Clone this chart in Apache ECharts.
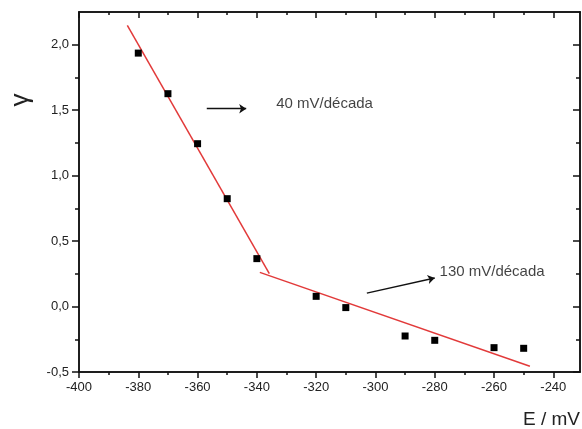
<!DOCTYPE html>
<html>
<head>
<meta charset="utf-8">
<script src="https://cdn.jsdelivr.net/npm/echarts@6/dist/echarts.min.js"></script>
<style>
html,body{margin:0;padding:0;background:#fff;}
#c{width:582px;height:429px;}
</style>
</head>
<body>
<div id="c"></div>
<script>
// measured points
const potentials = [-380, -370, -360, -350, -340, -320, -310, -290, -280, -260, -250];
const gammaValues = [1.936, 1.626, 1.244, 0.824, 0.366, 0.078, -0.008, -0.225, -0.258, -0.314, -0.319];
// fitted lines (end points)
const fit1X = [-383.7, -335.8];
const fit1Y = [2.147, 0.252];
const fit2X = [-339.0, -247.9];
const fit2Y = [0.261, -0.456];
// annotation arrows (start, end)
const arrow1X = [-356.9, -343.6];
const arrow1Y = [1.511, 1.511];
const arrow2X = [-302.9, -280.0];
const arrow2Y = [0.103, 0.218];
// annotation labels
const noteText = ['40 mV/década', '130 mV/década'];
const noteX = [-333.5, -278.4];
const noteY = [1.548, 0.264];
// ticks
const xMajor = [-400, -380, -360, -340, -320, -300, -280, -260, -240];
const xMinor = [-390, -370, -350, -330, -310, -290, -270, -250];
const yMajor = [-0.5, 0.0, 0.5, 1.0, 1.5, 2.0];
const yMinor = [-0.25, 0.25, 0.75, 1.25, 1.75];
const xRange = [-400, -231];
const yRange = [-0.5, 2.25];
const yTitle = 'γ';
const xTitle = 'E / mV';

const FONT = 'Liberation Sans, Arial, sans-serif';
const AX = '#111';
const RED = '#e23a3a';

function zip(a, b) { return a.map((v, i) => [v, b[i]]); }

const gridBox = {left: 79, top: 12, width: 501, height: 360};

function xAx(grid, pos, ticks, len, inside, labels) {
  return {
    type: 'value', gridIndex: grid, position: pos, min: xRange[0], max: xRange[1],
    axisLine: {show: true, onZero: false, lineStyle: {color: AX, width: 1.5}},
    axisTick: {show: true, customValues: ticks, length: len, inside: inside, lineStyle: {color: AX, width: 1.5}},
    axisLabel: labels ? {show: true, customValues: xMajor, fontSize: 13, color: '#222', fontFamily: FONT, margin: 9,
      formatter: v => String(v)} : {show: false},
    splitLine: {show: false}
  };
}
function yAx(grid, pos, ticks, len, inside, labels) {
  return {
    type: 'value', gridIndex: grid, position: pos, min: yRange[0], max: yRange[1],
    axisLine: {show: true, onZero: false, lineStyle: {color: AX, width: 1.5}},
    axisTick: {show: true, customValues: ticks, length: len, inside: inside, lineStyle: {color: AX, width: 1.5}},
    axisLabel: labels ? {show: true, customValues: yMajor, fontSize: 13, color: '#222', fontFamily: FONT, margin: 10,
      formatter: v => v.toFixed(1).replace('.', ',')} : {show: false},
    splitLine: {show: false}
  };
}

const chart = echarts.init(document.getElementById('c'), null, {renderer: 'canvas'});
chart.setOption({
  animation: false,
  backgroundColor: '#fff',
  grid: [Object.assign({}, gridBox), Object.assign({}, gridBox)],
  xAxis: [
    xAx(0, 'bottom', xMajor, 6, false, true),
    xAx(0, 'top', xMajor, 6, true, false),
    xAx(1, 'bottom', xMinor, 3, false, false),
    xAx(1, 'top', xMinor, 3, true, false)
  ],
  yAxis: [
    yAx(0, 'left', yMajor, 7, false, true),
    yAx(0, 'right', yMajor, 7, true, false),
    yAx(1, 'left', yMinor, 4, false, false),
    yAx(1, 'right', yMinor, 4, true, false)
  ],
  series: [
    {type: 'line', xAxisIndex: 0, yAxisIndex: 0, data: zip(fit1X, fit1Y), symbol: 'none',
      lineStyle: {color: RED, width: 1.5}, silent: true, z: 2},
    {type: 'line', xAxisIndex: 0, yAxisIndex: 0, data: zip(fit2X, fit2Y), symbol: 'none',
      lineStyle: {color: RED, width: 1.5}, silent: true, z: 2},
    {type: 'scatter', xAxisIndex: 0, yAxisIndex: 0, data: zip(potentials, gammaValues), symbol: 'rect',
      symbolSize: 7, itemStyle: {color: '#000', opacity: 1}, silent: true, z: 3},
    {type: 'line', xAxisIndex: 0, yAxisIndex: 0, data: [], silent: true,
      markLine: {
        silent: true, symbol: ['none', 'arrow'], symbolSize: 7,
        label: {show: false},
        lineStyle: {color: '#111', width: 1.4, type: 'solid'},
        itemStyle: {color: '#111'},
        data: [
          [{coord: [arrow1X[0], arrow1Y[0]]}, {coord: [arrow1X[1], arrow1Y[1]]}],
          [{coord: [arrow2X[0], arrow2Y[0]]}, {coord: [arrow2X[1], arrow2Y[1]]}]
        ]
      }},
    {type: 'scatter', xAxisIndex: 0, yAxisIndex: 0, symbolSize: 0.1, itemStyle: {color: 'rgba(0,0,0,0)'},
      silent: true,
      data: noteText.map((t, i) => ({value: [noteX[i], noteY[i]], name: t})),
      label: {show: true, position: 'right', distance: 0, formatter: p => p.name,
        fontSize: 15, color: '#111', fontFamily: FONT}}
  ],
  graphic: [
    {type: 'text', x: 21, y: 100, rotation: Math.PI / 2,
      style: {text: yTitle, font: '26px Liberation Sans', fill: '#222', align: 'center', verticalAlign: 'middle'}},
    {type: 'text', x: 580, y: 420,
      style: {text: xTitle, font: '19px Liberation Sans', fill: '#222', align: 'right', verticalAlign: 'middle'}}
  ]
});
</script>
</body>
</html>
